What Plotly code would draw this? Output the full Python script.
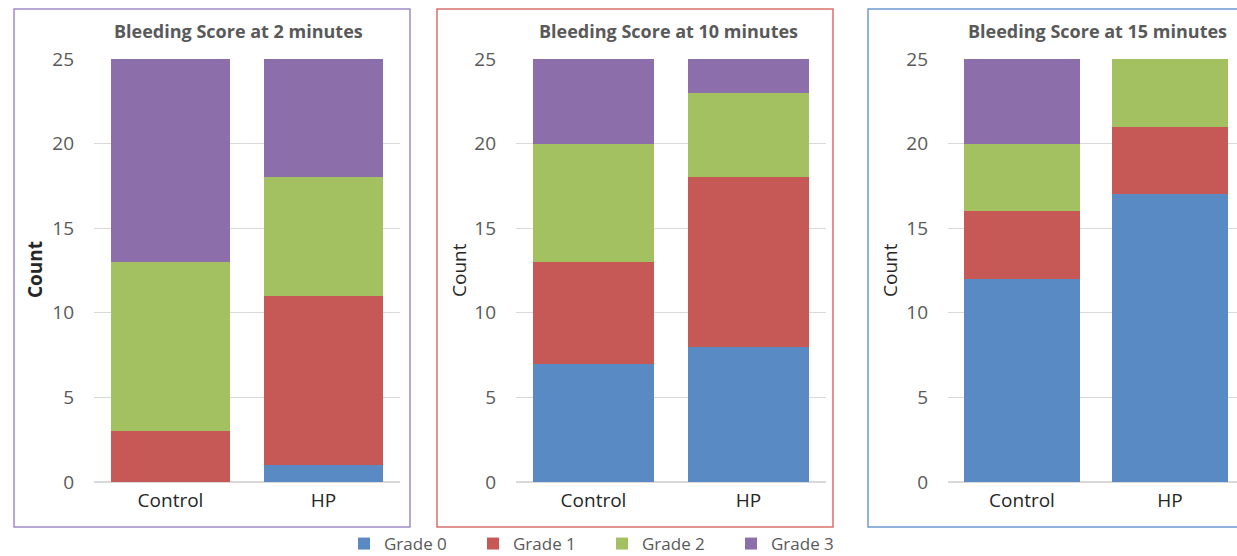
import plotly.graph_objects as go

W, H = 1237, 556

categories = ["Control", "HP"]
grades = ["Grade 0", "Grade 1", "Grade 2", "Grade 3"]
titles = ["Bleeding Score at 2 minutes", "Bleeding Score at 10 minutes", "Bleeding Score at 15 minutes"]

# counts per grade, [Control, HP]
min2_g0 = [0, 1]
min2_g1 = [3, 10]
min2_g2 = [10, 7]
min2_g3 = [12, 7]

min10_g0 = [7, 8]
min10_g1 = [6, 10]
min10_g2 = [7, 5]
min10_g3 = [5, 2]

min15_g0 = [12, 17]
min15_g1 = [4, 4]
min15_g2 = [4, 4]
min15_g3 = [5, 0]

panels = [
    [min2_g0, min2_g1, min2_g2, min2_g3],
    [min10_g0, min10_g1, min10_g2, min10_g3],
    [min15_g0, min15_g1, min15_g2, min15_g3],
]

colors = ["#598AC4", "#C65956", "#A4C162", "#8B6EAA"]
border_colors = ["#A08BC8", "#D9716E", "#6F9BD6"]

FONT = "Open Sans"
GRAY = "#595959"

def px(x):
    return x / W

def py(y):
    return (H - y) / H

plot_x = [(94, 400), (516, 826), (948, 1237)]
cat_px = [153, 155, 148]
y_top, y_bot = 59, 482
boxes = [(14, 410), (437, 833), (868, 1245)]
ylabel_x = [35, 459, 890]
title_x = [238, 668, 1097]

fig = go.Figure()
layout = {}
for i, data in enumerate(panels):
    sfx = "" if i == 0 else str(i + 1)
    for g, vals in enumerate(data):
        fig.add_trace(go.Bar(
            x=categories, y=vals, name=grades[g],
            marker=dict(color=colors[g], line=dict(width=0)),
            xaxis="x" + sfx, yaxis="y" + sfx,
            showlegend=(i == 0), legendgroup=grades[g],
        ))
    x0, x1 = plot_x[i]
    span = (x1 - x0) / cat_px[i]
    layout["xaxis" + sfx] = dict(
        domain=[px(x0), px(x1)], anchor="y" + sfx,
        range=[-0.5, -0.5 + span], showgrid=False, showline=False, zeroline=False,
        ticks="", tickfont=dict(family=FONT, size=19, color="#262626"),
        ticklabelstandoff=5, fixedrange=True,
    )
    layout["yaxis" + sfx] = dict(
        domain=[py(y_bot), py(y_top)], anchor="x" + sfx,
        range=[0, 25], dtick=5, showgrid=True, gridcolor="#D9D9D9", gridwidth=1,
        zeroline=True, zerolinecolor="#D9D9D9", zerolinewidth=1.5, showline=False,
        ticks="", tickfont=dict(family=FONT, size=19, color=GRAY),
        ticklabelstandoff=19, fixedrange=True,
    )

shapes = []
annotations = []
for i in range(3):
    bx0, bx1 = boxes[i]
    shapes.append(dict(type="rect", xref="paper", yref="paper",
                       x0=px(bx0), x1=px(bx1), y0=py(527), y1=py(9),
                       line=dict(color=border_colors[i], width=1.5), layer="below"))
    annotations.append(dict(text="<b>" + titles[i] + "</b>", xref="paper", yref="paper",
                            x=px(title_x[i]), y=py(31), xanchor="center", yanchor="middle",
                            showarrow=False, font=dict(family=FONT, size=18, color=GRAY)))
    lab = "<b>Count</b>" if i == 0 else "Count"
    annotations.append(dict(text=lab, xref="paper", yref="paper",
                            x=px(ylabel_x[i]), y=py(270), xanchor="center", yanchor="middle",
                            textangle=-90, showarrow=False,
                            font=dict(family=FONT, size=19, color="#262626")))

fig.update_layout(
    width=W, height=H,
    margin=dict(l=0, r=0, t=0, b=0, autoexpand=False),
    barmode="stack", bargap=0.22,
    paper_bgcolor="white", plot_bgcolor="white",
    shapes=shapes, annotations=annotations,
    legend=dict(orientation="h", x=px(344), y=py(544), xanchor="left", yanchor="middle",
                font=dict(family=FONT, size=17, color=GRAY), traceorder="normal",
                entrywidth=84, entrywidthmode="pixels",
                bgcolor="rgba(0,0,0,0)"),
    **layout,
)

fig.write_html("out.html", config={"displayModeBar": False},
               post_script="document.body.style.margin='0';")
